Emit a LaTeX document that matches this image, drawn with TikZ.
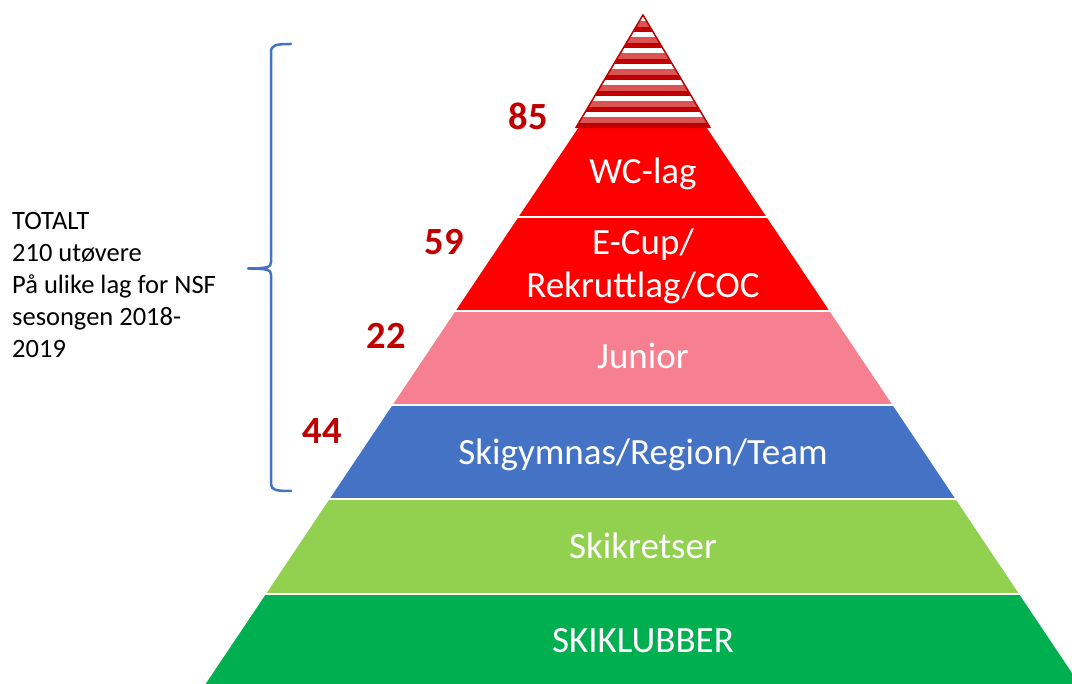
\documentclass[tikz,border=0pt]{standalone}
\usepackage{fontspec}
\setmainfont{Carlito}
\definecolor{dred}{RGB}{192,0,0}
\definecolor{pred}{RGB}{218,84,84}
\definecolor{lred}{RGB}{255,0,0}
\definecolor{jpink}{RGB}{246,128,143}
\definecolor{sblue}{RGB}{68,114,196}
\definecolor{lgreen}{RGB}{146,208,80}
\definecolor{dgreen}{RGB}{0,176,80}
\tikzset{
  layertext/.style={text=white,font=\fontsize{37}{43}\selectfont,inner sep=0pt,anchor=base},
  numtext/.style={text=dred,font=\fontsize{38.5}{44}\selectfont\bfseries,inner sep=0pt,anchor=base},
  lefttext/.style={anchor=base west,inner sep=0pt,font=\fontsize{26.5}{32}\selectfont},
  sep/.style={white,line width=2pt},
  bracestyle/.style={sblue,line width=2.5pt,line cap=round,line join=round}
}
\begin{document}
\begin{tikzpicture}[x=1pt,y=-1pt]
\useasboundingbox (0,0) rectangle (1072,684);
% layers
\fill[lred] (580.2,125) -- (704.8,125) -- (766.8,217.5) -- (518.2,217.5) -- cycle;
\fill[lred] (518.2,217.5) -- (766.8,217.5) -- (829.4,311) -- (455.6,311) -- cycle;
\fill[jpink] (455.6,311) -- (829.4,311) -- (892.4,405) -- (392.6,405) -- cycle;
\fill[sblue] (392.6,405) -- (892.4,405) -- (955.4,499) -- (329.6,499) -- cycle;
\fill[lgreen] (329.6,499) -- (955.4,499) -- (1019,594) -- (266,594) -- cycle;
\fill[dgreen] (266,594) -- (1019,594) -- (1090.1,700) -- (194.9,700) -- cycle;
\foreach \yy in {217.5,311,405,499,594}{
  \draw[sep] (150,\yy) -- (1100,\yy);
}
% striped top triangle
\begin{scope}
  \clip (643,15) -- (710,127.5) -- (576,127.5) -- cycle;
  \fill[white] (570,10) rectangle (720,130);
  \foreach \k in {0,...,7}{
    \fill[pred] (570,{117.33-16*\k}) rectangle (720,{122.67-16*\k});
    \fill[dred] (570,{122.67-16*\k}) rectangle (720,{128-16*\k});
  }
\end{scope}
\draw[dred,line width=1.5pt,line join=miter] (643,15) -- (710,127.5) -- (576,127.5) -- cycle;
% labels
\node[layertext] (wc) at (643,184) {WC-lag};
\node[layertext] (ecup1) at (643,255) {E-Cup/};
\node[layertext] (ecup2) at (643,298) {Rekruttlag/COC};
\node[layertext] (jun) at (643,369) {Junior};
\node[layertext] (sgym) at (643,465) {Skigymnas/Region/Team};
\node[layertext] (skr) at (643,559) {Skikretser};
\node[layertext] (skl) at (643,652) {SKIKLUBBER};
% numbers
\node[numtext] (n85) at (528,130) {85};
\node[numtext] (n59) at (444,255) {59};
\node[numtext] (n22) at (386,349) {22};
\node[numtext] (n44) at (322,444) {44};
% brace
\draw[bracestyle] (291,44) .. controls (276,44) and (271,45) .. (271,52) -- (271,262)
  .. controls (271,267) and (268,268.5) .. (248,268.5)
  .. controls (268,268.5) and (271,270) .. (271,275) -- (271,484)
  .. controls (271,490) and (276,491) .. (291,491);
% left text
\node[lefttext] (t1) at (12,230) {TOTALT};
\node[lefttext] (t2) at (12,262) {210 utøvere};
\node[lefttext] (t3) at (12,294) {På ulike lag for NSF};
\node[lefttext] (t4) at (12,326) {sesongen 2018-};
\node[lefttext] (t5) at (12,358) {2019};
\end{tikzpicture}
\end{document}
